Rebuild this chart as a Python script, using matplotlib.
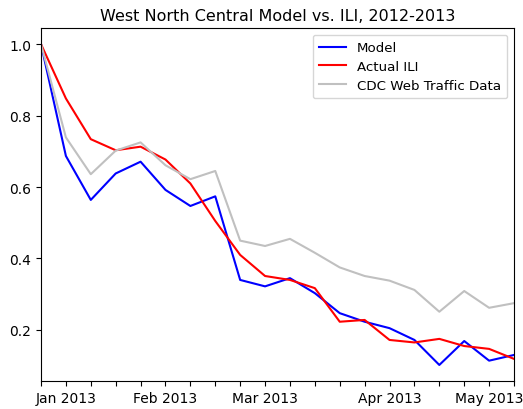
import matplotlib
matplotlib.use("Agg")
import matplotlib.pyplot as plt
import numpy as np
import pandas as pd

weeks = pd.date_range("2012-12-30", periods=20, freq="7D")

model = np.array([1.0, 0.687, 0.564, 0.638, 0.671, 0.592, 0.547, 0.574, 0.340, 0.322,
                  0.345, 0.303, 0.247, 0.223, 0.205, 0.172, 0.102, 0.169, 0.114, 0.130])
actual = np.array([1.0, 0.848, 0.734, 0.703, 0.713, 0.677, 0.610, 0.505, 0.410, 0.351,
                   0.340, 0.317, 0.223, 0.228, 0.172, 0.165, 0.175, 0.155, 0.147, 0.119])
cdc = np.array([1.0, 0.739, 0.636, 0.702, 0.725, 0.661, 0.622, 0.645, 0.450, 0.435,
                0.455, 0.416, 0.375, 0.351, 0.338, 0.312, 0.251, 0.309, 0.262, 0.275])

fig = plt.figure(figsize=(5.23, 4.10), dpi=100)
ax = fig.add_axes([0.0784, 0.0683, 0.9044, 0.8607])

ax.plot(weeks, model, color="blue", lw=1.5, label="Model")
ax.plot(weeks, actual, color="red", lw=1.5, label="Actual ILI")
ax.plot(weeks, cdc, color="silver", lw=1.5, label="CDC Web Traffic Data")

ax.set_xlim(weeks[0], weeks[-1])
ax.set_xticks(weeks)
ax.set_xticklabels([d.strftime("%b %Y") if d.day <= 7 else "" for d in weeks])
ax.set_title("West North Central Model vs. ILI, 2012-2013", fontsize=11.5)
ax.legend(loc="upper right", fontsize=9.6, labelspacing=0.42, borderpad=0.5)

fig.savefig("out.png", dpi=100)
